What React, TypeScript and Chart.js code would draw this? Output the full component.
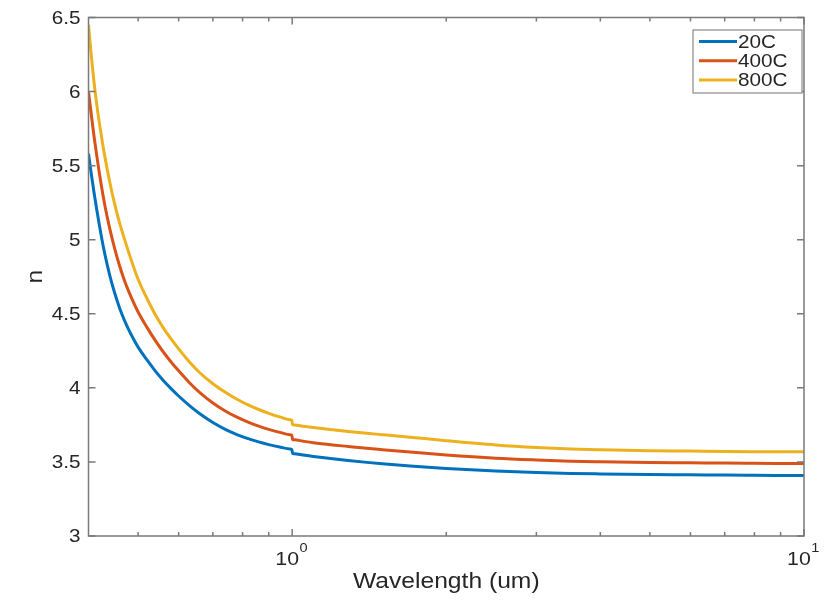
import React, { useEffect, useRef } from "react";
import { Chart, registerables } from "chart.js";

Chart.register(...registerables);

// ---- Data ----
const WAVELENGTHS = [
  0.4, 0.405, 0.41, 0.415, 0.42, 0.425, 0.43, 0.44, 0.45, 0.46, 0.47, 0.48,
  0.49, 0.5, 0.52, 0.54, 0.56, 0.58, 0.6, 0.63, 0.66, 0.7, 0.74, 0.78, 0.82,
  0.86, 0.9, 0.95, 0.99, 0.998, 1.002, 1.01, 1.05, 1.1, 1.2, 1.3, 1.4, 1.5,
  1.7, 2, 2.5, 3, 3.5, 4, 5, 6, 7, 8, 10,
];
const N_20C = [
  5.58, 5.445, 5.32, 5.206, 5.099, 5.0, 4.911, 4.761, 4.64, 4.539, 4.457,
  4.388, 4.328, 4.275, 4.19, 4.115, 4.05, 3.995, 3.945, 3.88, 3.825, 3.766,
  3.72, 3.685, 3.657, 3.635, 3.617, 3.599, 3.587, 3.585, 3.558, 3.556, 3.547,
  3.537, 3.521, 3.508, 3.497, 3.488, 3.473, 3.456, 3.438, 3.428, 3.422, 3.419,
  3.415, 3.413, 3.411, 3.41, 3.408,
];
const N_400C = [
  6.0, 5.845, 5.7, 5.571, 5.449, 5.34, 5.241, 5.076, 4.94, 4.824, 4.727,
  4.646, 4.575, 4.512, 4.41, 4.32, 4.242, 4.175, 4.115, 4.035, 3.968, 3.898,
  3.844, 3.802, 3.769, 3.742, 3.72, 3.698, 3.683, 3.681, 3.651, 3.649, 3.64,
  3.63, 3.615, 3.603, 3.592, 3.583, 3.567, 3.547, 3.525, 3.513, 3.505, 3.501,
  3.496, 3.494, 3.492, 3.491, 3.489,
];
const N_800C = [
  6.45, 6.245, 6.065, 5.916, 5.789, 5.675, 5.571, 5.391, 5.24, 5.114, 5.007,
  4.908, 4.816, 4.733, 4.605, 4.495, 4.405, 4.33, 4.263, 4.175, 4.102, 4.028,
  3.97, 3.923, 3.885, 3.854, 3.828, 3.802, 3.784, 3.781, 3.751, 3.749, 3.741,
  3.732, 3.717, 3.704, 3.693, 3.684, 3.667, 3.643, 3.614, 3.597, 3.587, 3.582,
  3.576, 3.573, 3.57, 3.569, 3.568,
];
const SERIES_LABELS = ["20C", "400C", "800C"];
const SERIES_COLORS = ["#0072BD", "#D95319", "#EDB120"];

const Y_TICKS = [3, 3.5, 4, 4.5, 5, 5.5, 6, 6.5];
const X_MAJOR_TICKS = [1, 10];
const X_MINOR_TICKS = [0.5, 0.6, 0.7, 0.8, 0.9, 2, 3, 4, 5, 6, 7, 8, 9];
const X_MIN = 0.4;
const X_MAX = 10;
const Y_MIN = 3;
const Y_MAX = 6.5;
const X_TITLE = "Wavelength (um)";
const Y_TITLE = "n";

const FONT = "'Liberation Sans', Arial, Helvetica, sans-serif";
const TEXT_COLOR = "#262626";
const AXIS_COLOR = "#7a7a7a";
const SX = 1.12; // horizontal text stretch, like the reference

function drawText(
  ctx: CanvasRenderingContext2D,
  text: string,
  x: number,
  y: number,
  size: number,
  align: "left" | "center" | "right",
  baseline: CanvasTextBaseline
) {
  ctx.save();
  ctx.font = `${size}px ${FONT}`;
  ctx.textBaseline = baseline;
  ctx.textAlign = "left";
  const w = ctx.measureText(text).width * SX;
  const left = align === "center" ? x - w / 2 : align === "right" ? x - w : x;
  ctx.translate(left, y);
  ctx.scale(SX, 1);
  ctx.fillStyle = TEXT_COLOR;
  ctx.fillText(text, 0, 0);
  ctx.restore();
}

const framePlugin = {
  id: "matlabFrame",
  afterDatasetsDraw(chart: any) {
    const ctx: CanvasRenderingContext2D = chart.ctx;
    const { left, right, top, bottom } = chart.chartArea;
    const xs = chart.scales.x;
    const ys = chart.scales.y;

    ctx.save();
    ctx.strokeStyle = AXIS_COLOR;
    ctx.lineWidth = 1.5;
    ctx.strokeRect(left, top, right - left, bottom - top);

    const tick = (v: number, len: number) => {
      const px = xs.getPixelForValue(v);
      ctx.beginPath();
      ctx.moveTo(px, bottom);
      ctx.lineTo(px, bottom - len);
      ctx.moveTo(px, top);
      ctx.lineTo(px, top + len);
      ctx.stroke();
    };
    X_MAJOR_TICKS.forEach((v) => tick(v, 7));
    X_MINOR_TICKS.forEach((v) => tick(v, 4));

    Y_TICKS.forEach((v) => {
      const py = ys.getPixelForValue(v);
      ctx.beginPath();
      ctx.moveTo(left, py);
      ctx.lineTo(left + 7, py);
      ctx.moveTo(right, py);
      ctx.lineTo(right - 7, py);
      ctx.stroke();
    });
    ctx.restore();

    Y_TICKS.forEach((v) => {
      const py = ys.getPixelForValue(v);
      drawText(ctx, String(v), left - 8, py + 1, 18.5, "right", "middle");
    });

    X_MAJOR_TICKS.forEach((v) => {
      const px = xs.getPixelForValue(v);
      const base = "10";
      const exp = String(Math.round(Math.log10(v)));
      ctx.save();
      ctx.font = `19px ${FONT}`;
      const wb = ctx.measureText(base).width * SX;
      ctx.font = `13px ${FONT}`;
      const we = ctx.measureText(exp).width * SX;
      ctx.restore();
      const x0 = px - (wb + we) / 2 - 1;
      drawText(ctx, base, x0, bottom + 29, 19, "left", "alphabetic");
      drawText(ctx, exp, x0 + wb + 0.5, bottom + 16, 13, "left", "alphabetic");
    });

    drawText(ctx, X_TITLE, (left + right) / 2, bottom + 52, 22, "center", "alphabetic");
    ctx.save();
    ctx.translate(42, (top + bottom) / 2);
    ctx.rotate(-Math.PI / 2);
    drawText(ctx, Y_TITLE, 0, 0, 22, "center", "alphabetic");
    ctx.restore();

    // legend (inside, top right)
    const bx = 693;
    const by = 30;
    const bw = 109;
    const bh = 63;
    ctx.save();
    ctx.fillStyle = "#ffffff";
    ctx.fillRect(bx, by, bw, bh);
    ctx.strokeStyle = "#8a8a8a";
    ctx.lineWidth = 1.2;
    ctx.strokeRect(bx, by, bw, bh);
    ctx.restore();
    chart.data.datasets.forEach((ds: any, i: number) => {
      const ly = by + 11.5 + i * 19.2;
      ctx.save();
      ctx.strokeStyle = ds.borderColor;
      ctx.lineWidth = 3;
      ctx.beginPath();
      ctx.moveTo(bx + 6, ly);
      ctx.lineTo(bx + 44, ly);
      ctx.stroke();
      ctx.restore();
      drawText(ctx, ds.label, bx + 45, ly + 1, 18.5, "left", "middle");
    });
  },
};

export default function App() {
  const canvasRef = useRef<HTMLCanvasElement | null>(null);

  useEffect(() => {
    const canvas = canvasRef.current;
    if (!canvas) return;
    const seriesValues = [N_20C, N_400C, N_800C];
    const chart = new Chart(canvas, {
      type: "line",
      data: {
        datasets: seriesValues.map((vals, i) => ({
          label: SERIES_LABELS[i],
          data: WAVELENGTHS.map((w, j) => ({ x: w, y: vals[j] })),
          borderColor: SERIES_COLORS[i],
          backgroundColor: SERIES_COLORS[i],
          borderWidth: 3,
          pointRadius: 0,
          cubicInterpolationMode: "monotone" as const,
          fill: false,
        })),
      },
      options: {
        responsive: false,
        animation: false,
        devicePixelRatio: 1,
        layout: { padding: { left: 88.5, right: 30, top: 17.5, bottom: 66 } },
        plugins: {
          legend: { display: false },
          tooltip: { enabled: false },
        },
        scales: {
          x: { type: "logarithmic", min: X_MIN, max: X_MAX, display: false },
          y: { type: "linear", min: Y_MIN, max: Y_MAX, display: false },
        },
      },
      plugins: [framePlugin],
    });
    return () => chart.destroy();
  }, []);

  return (
    <div style={{ position: "fixed", left: 0, top: 0, width: 834, height: 602, background: "#fff" }}>
      <canvas ref={canvasRef} width={834} height={602} />
    </div>
  );
}
